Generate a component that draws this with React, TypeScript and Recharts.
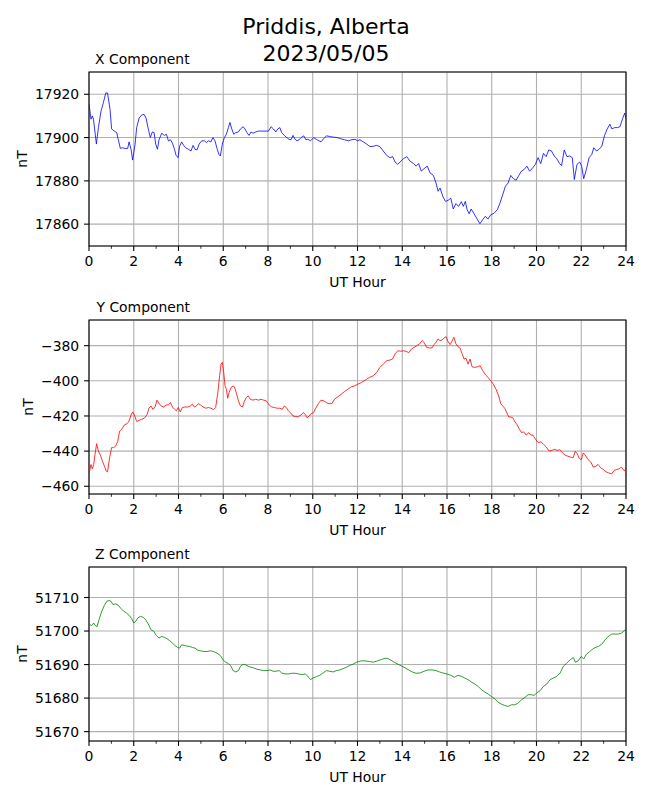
import { LineChart, Line, XAxis, YAxis, CartesianGrid, ReferenceArea } from "recharts";

const FONT = "'DejaVu Sans', sans-serif";

const HOURS_ALL = [0, 1, 2, 3, 4, 5, 6, 7, 8, 9, 10, 11, 12, 13, 14, 15, 16, 17, 18, 19, 20, 21, 22, 23, 24];
const HOURS_MAJOR = [0, 2, 4, 6, 8, 10, 12, 14, 16, 18, 20, 22, 24];

const X_TICKS = [17860, 17880, 17900, 17920];
const Y_TICKS = [-460, -440, -420, -400, -380];
const Z_TICKS = [51670, 51680, 51690, 51700, 51710];

const X_HOURS = [
  0, 0.09, 0.15, 0.2, 0.33, 0.42, 0.54, 0.64, 0.75, 0.83, 0.94, 1.01, 1.13, 1.24, 1.31, 1.4, 1.49, 1.61, 1.73, 1.79,
  1.88, 1.95, 2.06, 2.13, 2.24, 2.35, 2.46, 2.55, 2.65, 2.74, 2.83, 2.91, 2.98, 3.06, 3.13, 3.25, 3.37, 3.46, 3.55,
  3.64, 3.73, 3.82, 3.89, 3.98, 4.05, 4.14, 4.23, 4.32, 4.44, 4.56, 4.65, 4.74, 4.83, 4.92, 5.04, 5.16, 5.25, 5.34,
  5.44, 5.54, 5.63, 5.72, 5.81, 5.87, 5.96, 6.05, 6.14, 6.23, 6.3, 6.38, 6.47, 6.56, 6.68, 6.77, 6.89, 6.97, 7.06,
  7.15, 7.24, 7.33, 7.45, 7.57, 7.72, 7.87, 8.02, 8.14, 8.24, 8.35, 8.44, 8.53, 8.61, 8.73, 8.84, 8.94, 9.03, 9.12,
  9.21, 9.3, 9.39, 9.48, 9.6, 9.69, 9.78, 9.9, 10.04, 10.16, 10.28, 10.37, 10.49, 10.61, 10.76, 10.91, 11.09, 11.24,
  11.42, 11.6, 11.74, 11.89, 12.0, 12.11, 12.26, 12.41, 12.56, 12.71, 12.86, 13.0, 13.15, 13.3, 13.45, 13.57, 13.68,
  13.8, 13.9, 14.05, 14.2, 14.35, 14.5, 14.62, 14.73, 14.85, 14.97, 15.12, 15.24, 15.39, 15.51, 15.6, 15.69, 15.81,
  15.93, 16.05, 16.17, 16.28, 16.4, 16.52, 16.64, 16.73, 16.82, 16.9, 16.99, 17.08, 17.2, 17.35, 17.47, 17.59, 17.71,
  17.83, 17.95, 18.1, 18.25, 18.37, 18.49, 18.61, 18.73, 18.85, 18.97, 19.09, 19.21, 19.33, 19.45, 19.57, 19.69, 19.8,
  19.95, 20.07, 20.19, 20.31, 20.43, 20.55, 20.67, 20.79, 20.91, 21.03, 21.12, 21.24, 21.36, 21.48, 21.6, 21.69,
  21.81, 21.93, 22.02, 22.11, 22.23, 22.35, 22.47, 22.56, 22.68, 22.8, 22.92, 23.04, 23.16, 23.28, 23.37, 23.49,
  23.61, 23.73, 23.85, 23.94, 24.0,
];
const X_NT = [
  17915.5, 17908.5, 17910, 17908.5, 17897, 17904.6, 17912.4, 17916, 17920.6, 17920.6, 17913, 17904, 17903, 17902.3,
  17899, 17895, 17895.3, 17895, 17895, 17898, 17894.6, 17889.6, 17897, 17904.6, 17909, 17910.4, 17910.7, 17909, 17904,
  17900, 17902.6, 17902.3, 17897, 17894.6, 17899, 17902, 17901, 17901.5, 17898.5, 17899, 17897.4, 17894.6, 17891.8,
  17890.7, 17896, 17898, 17896.4, 17895.3, 17894.6, 17893.8, 17896.4, 17894.6, 17894.3, 17897, 17898.5, 17898.5,
  17897.7, 17898.5, 17898, 17900, 17898.5, 17895, 17892.2, 17891.5, 17897, 17900, 17901.5, 17904.6, 17907, 17904,
  17901.5, 17902.3, 17902.6, 17904, 17905, 17904, 17902.3, 17901, 17902.6, 17902, 17902.6, 17903, 17903, 17903, 17903,
  17905, 17904, 17902.6, 17904, 17904.6, 17902.3, 17901, 17900, 17899.2, 17899, 17901, 17899.2, 17898.5, 17899, 17900,
  17900.8, 17899, 17899.2, 17898.5, 17900, 17899.2, 17898.5, 17898, 17899.5, 17900.8, 17900.5, 17900.2, 17900, 17899.5,
  17899, 17898.5, 17899, 17899.2, 17898.5, 17899, 17898, 17897, 17895.8, 17896, 17896.4, 17895.8, 17893.8, 17891.8,
  17890.7, 17891.2, 17888.7, 17887.6, 17888.7, 17890.2, 17891.2, 17889.1, 17888, 17886.8, 17888, 17884.5, 17885.6,
  17886.8, 17883.7, 17882.5, 17879, 17875.2, 17876.7, 17872.9, 17870.5, 17871, 17872, 17867, 17869.5, 17868.2, 17870.4,
  17868.2, 17870.5, 17866.7, 17864.8, 17867, 17865, 17862.3, 17860.2, 17862, 17863.6, 17862.3, 17864.3, 17865, 17866.7,
  17869.8, 17873.6, 17877.5, 17879, 17882.5, 17881, 17880.3, 17882.5, 17884.5, 17885.3, 17886.8, 17884.5, 17885.6,
  17887.6, 17890.7, 17888, 17892.7, 17891.2, 17894.3, 17893.8, 17891.5, 17890.2, 17888, 17887, 17894.3, 17891.2,
  17891.5, 17890.7, 17880.6, 17887.6, 17888.7, 17886.8, 17881, 17885.3, 17890.7, 17892.2, 17895.3, 17893.8, 17894.6,
  17896, 17901, 17904, 17906.2, 17904, 17904.6, 17904.6, 17905, 17908.8, 17911.3, 17908.8,
];

const Y_HOURS = [
  0, 0.09, 0.15, 0.21, 0.27, 0.34, 0.42, 0.51, 0.6, 0.69, 0.77, 0.83, 0.92, 1.01, 1.1, 1.19, 1.28, 1.37, 1.46, 1.58,
  1.7, 1.79, 1.88, 1.95, 2.03, 2.13, 2.24, 2.35, 2.47, 2.59, 2.68, 2.77, 2.86, 2.95, 3.04, 3.13, 3.22, 3.34, 3.46,
  3.55, 3.64, 3.73, 3.82, 3.9, 3.99, 4.08, 4.17, 4.29, 4.41, 4.53, 4.62, 4.71, 4.8, 4.89, 4.98, 5.1, 5.22, 5.34, 5.45,
  5.57, 5.66, 5.75, 5.84, 5.9, 5.96, 6.02, 6.08, 6.14, 6.2, 6.26, 6.35, 6.44, 6.5, 6.59, 6.68, 6.77, 6.86, 6.94, 7.03,
  7.12, 7.21, 7.33, 7.45, 7.57, 7.69, 7.81, 7.93, 8.05, 8.17, 8.29, 8.41, 8.53, 8.64, 8.73, 8.82, 8.91, 9.0, 9.12,
  9.24, 9.36, 9.48, 9.57, 9.66, 9.75, 9.84, 9.93, 10.04, 10.13, 10.25, 10.37, 10.49, 10.61, 10.73, 10.85, 10.97,
  11.12, 11.27, 11.42, 11.57, 11.72, 11.87, 12.0, 12.17, 12.35, 12.53, 12.71, 12.86, 13.0, 13.15, 13.3, 13.45, 13.57,
  13.69, 13.81, 13.93, 14.05, 14.17, 14.29, 14.41, 14.53, 14.65, 14.77, 14.89, 14.97, 15.09, 15.21, 15.33, 15.42,
  15.51, 15.6, 15.69, 15.78, 15.87, 15.96, 16.04, 16.14, 16.22, 16.31, 16.4, 16.49, 16.58, 16.67, 16.76, 16.85, 16.94,
  17.03, 17.12, 17.24, 17.36, 17.48, 17.6, 17.72, 17.84, 17.95, 18.07, 18.19, 18.31, 18.4, 18.49, 18.58, 18.67, 18.76,
  18.85, 18.94, 19.03, 19.12, 19.24, 19.33, 19.42, 19.54, 19.66, 19.75, 19.84, 19.96, 20.08, 20.2, 20.32, 20.44,
  20.56, 20.68, 20.8, 20.92, 21.04, 21.16, 21.28, 21.4, 21.52, 21.64, 21.73, 21.82, 21.91, 22.0, 22.09, 22.18, 22.3,
  22.42, 22.54, 22.66, 22.75, 22.87, 22.99, 23.11, 23.23, 23.35, 23.47, 23.58, 23.7, 23.79, 23.88, 23.94, 24.0,
];
const Y_NT = [
  -453, -447.6, -450, -447.6, -441.9, -435.8, -440, -442.3, -445.7, -448.6, -451.4, -451.8, -443.8, -438, -438, -437.1,
  -434.7, -428.6, -427.6, -425.1, -424.4, -422.9, -419.4, -417.7, -419.4, -423.2, -422.5, -421.9, -421.3, -419.4,
  -415.6, -414.3, -416.2, -414.9, -411, -413, -414.3, -414.9, -413.7, -413.7, -412.4, -414.9, -416.2, -417.1, -415.2,
  -417.7, -415.2, -414.9, -414.9, -414.3, -413.3, -414.9, -414.3, -413, -413.7, -414.9, -415.6, -415.2, -415.6, -416.4,
  -415.2, -407.6, -397.1, -390.5, -389.5, -395.2, -402.9, -404.8, -409.9, -406.7, -403.8, -402.9, -403.4, -407.2,
  -411.4, -414.3, -414.9, -411.8, -409.5, -408.6, -410.5, -411, -410.5, -411, -410.5, -411, -411.4, -413.7, -414.9,
  -415.2, -415.6, -415.6, -416.2, -414.3, -415.2, -417.1, -418.1, -420, -420.4, -420.4, -419.4, -418.1, -419, -421,
  -420, -418.7, -418.1, -415.6, -413, -411, -411.4, -412.4, -413, -413, -410.5, -409.1, -407.6, -406.1, -404.8, -403.4,
  -402.9, -402, -401, -399.6, -398.1, -397.1, -395.2, -392.4, -390.5, -388.6, -388.2, -387.6, -384.4, -382.9, -383.2,
  -382.9, -383.2, -384, -381.9, -381, -380, -379, -377.1, -378.1, -381, -381.3, -381.3, -379.4, -378.1, -376.2, -377.1,
  -376.8, -375.6, -374.9, -377.5, -379.4, -377.5, -375.2, -379, -380.6, -381.3, -384.4, -387.6, -387.2, -390.5, -387.6,
  -392, -392.4, -392, -391.4, -394.3, -396.6, -398.1, -400, -401.9, -404.8, -408.6, -413, -414.3, -415.6, -418.1,
  -420.6, -420.6, -421, -423.2, -424.8, -427.6, -429.5, -429, -430.9, -429.5, -430.9, -430.9, -433.3, -435.2, -434.7,
  -436.2, -437.7, -440, -439.6, -439, -439.6, -439.2, -441, -442.3, -442.9, -443.4, -443.8, -440, -441.5, -444.2,
  -444.8, -441, -442.3, -444.8, -446.1, -449.1, -448.6, -447.6, -449.5, -450.5, -451.8, -452.4, -453, -451, -450.5,
  -450, -449.1, -450.5, -451.4, -449.5,
];

const Z_HOURS = [
  0, 0.12, 0.21, 0.27, 0.36, 0.45, 0.57, 0.69, 0.8, 0.89, 0.98, 1.07, 1.19, 1.31, 1.43, 1.55, 1.67, 1.79, 1.91, 2.0,
  2.09, 2.18, 2.3, 2.42, 2.53, 2.65, 2.77, 2.89, 3.01, 3.13, 3.25, 3.37, 3.49, 3.61, 3.73, 3.84, 3.96, 4.05, 4.14,
  4.26, 4.38, 4.5, 4.62, 4.74, 4.86, 4.98, 5.13, 5.28, 5.42, 5.57, 5.72, 5.87, 5.99, 6.11, 6.23, 6.35, 6.44, 6.56,
  6.68, 6.77, 6.89, 7.0, 7.12, 7.24, 7.36, 7.51, 7.66, 7.81, 7.96, 8.11, 8.23, 8.35, 8.5, 8.61, 8.76, 8.91, 9.06,
  9.21, 9.36, 9.51, 9.66, 9.78, 9.9, 10.01, 10.16, 10.31, 10.46, 10.61, 10.76, 10.91, 11.06, 11.21, 11.36, 11.51,
  11.66, 11.8, 11.95, 12.17, 12.35, 12.53, 12.71, 12.89, 13.07, 13.24, 13.39, 13.54, 13.72, 13.9, 14.08, 14.26, 14.44,
  14.62, 14.8, 14.97, 15.15, 15.33, 15.51, 15.66, 15.81, 15.99, 16.17, 16.34, 16.49, 16.64, 16.79, 16.94, 17.09,
  17.24, 17.39, 17.54, 17.69, 17.84, 17.98, 18.13, 18.28, 18.43, 18.58, 18.73, 18.88, 19.03, 19.18, 19.33, 19.48,
  19.63, 19.77, 19.89, 20.01, 20.16, 20.31, 20.46, 20.61, 20.76, 20.91, 21.06, 21.2, 21.35, 21.5, 21.65, 21.74, 21.86,
  22.0, 22.11, 22.23, 22.35, 22.47, 22.62, 22.77, 22.92, 23.07, 23.21, 23.36, 23.51, 23.66, 23.81, 23.96, 24.0,
];
const Z_NT = [
  51702.1, 51701.6, 51702.4, 51701.7, 51701.3, 51703.4, 51705.9, 51707.7, 51708.9, 51709.1, 51708.9, 51707.9, 51708.1,
  51707.7, 51706.7, 51705.9, 51705.4, 51704.7, 51703.7, 51702.4, 51702.9, 51703.9, 51704.4, 51704.1, 51703.4, 51702.1,
  51700.4, 51699.9, 51698.7, 51697.9, 51698.4, 51698.1, 51697.7, 51697.1, 51696.4, 51695.7, 51695.1, 51694.9, 51695.9,
  51695.7, 51695.5, 51695.4, 51695.1, 51694.9, 51694.3, 51694.1, 51693.9, 51693.9, 51694.1, 51693.9, 51693.4, 51692.7,
  51691.4, 51690.7, 51690.3, 51689.5, 51688.2, 51687.8, 51688.2, 51689.5, 51690.1, 51689.9, 51689.5, 51689.2, 51689,
  51688.6, 51688.4, 51688.2, 51688.2, 51688.4, 51688, 51688, 51688.2, 51687.5, 51687.2, 51687.2, 51687.4, 51687.4,
  51687.2, 51687, 51687.2, 51686.5, 51685.5, 51686, 51686.4, 51686.8, 51687.5, 51688.2, 51688, 51687.8, 51688.2,
  51688.4, 51688.8, 51689.2, 51689.8, 51690.1, 51690.7, 51691.1, 51691.1, 51690.9, 51690.7, 51691.1, 51691.5, 51691.9,
  51691.7, 51691.1, 51690.4, 51689.8, 51689.2, 51688.5, 51687.8, 51687.4, 51687.5, 51688, 51688.4, 51688.4, 51688.2,
  51687.8, 51687.5, 51687.2, 51686.8, 51686.2, 51686.8, 51686.5, 51686, 51685.5, 51684.8, 51684.2, 51683.5, 51682.5,
  51681.8, 51681.2, 51680.5, 51679.8, 51678.8, 51678.2, 51677.8, 51677.5, 51678, 51678, 51678.5, 51679.5, 51680.2,
  51681, 51681, 51680.8, 51681.5, 51682.2, 51683.5, 51684.2, 51685.5, 51686, 51686.5, 51687.5, 51689.5, 51690.4,
  51691.4, 51692.1, 51690.7, 51691.1, 51692.4, 51691.7, 51693.1, 51693.7, 51694.4, 51695.1, 51695.4, 51696.1, 51697.4,
  51698.4, 51699.1, 51699.1, 51699.1, 51699.4, 51700.4, 51700.2,
];

// plot box inside each panel chart
const PLOT_LEFT = 89;
const PLOT_H = 174;
const TOP_PAD = 10;
const AXIS_H = 50;
const CHART_H = TOP_PAD + PLOT_H + AXIS_H;
const PLOT_BOTTOM = TOP_PAD + PLOT_H;

const fmt = (v: number) => String(v).replace("-", "\u2212");

function HourTick(props: any) {
  const { x, payload } = props;
  const major = payload.value % 2 === 0;
  return (
    <g>
      <line
        x1={x}
        x2={x}
        y1={PLOT_BOTTOM}
        y2={PLOT_BOTTOM + (major ? 4.9 : 2.8)}
        stroke="#000"
        strokeWidth={major ? 1.1 : 0.8}
      />
      {major && (
        <text x={x} y={PLOT_BOTTOM + 20.4} textAnchor="middle" fontSize={13.9} fontFamily={FONT} fill="#000">
          {payload.value}
        </text>
      )}
    </g>
  );
}

function NtTick(props: any) {
  const { y, payload } = props;
  return (
    <g>
      <line x1={PLOT_LEFT - 4.9} x2={PLOT_LEFT} y1={y} y2={y} stroke="#000" strokeWidth={1.1} />
      <text x={PLOT_LEFT - 9.8} y={y + 5} textAnchor="end" fontSize={13.9} fontFamily={FONT} fill="#000">
        {fmt(payload.value)}
      </text>
    </g>
  );
}

type PanelProps = {
  top: number;
  title: string;
  titleX: number;
  hours: number[];
  values: number[];
  color: string;
  domain: [number, number];
  ticks: number[];
  labelX: number;
};

function Panel({ top, title, titleX, hours, values, color, domain, ticks, labelX }: PanelProps) {
  const data = hours.map((h, i) => ({ h, v: values[i] }));
  return (
    <div style={{ position: "absolute", left: 0, top: top - TOP_PAD, width: 650, height: CHART_H }}>
      <LineChart width={650} height={CHART_H} data={data} margin={{ top: TOP_PAD, right: 24, bottom: 0, left: 29 }}>
        <CartesianGrid stroke="#b0b0b0" strokeWidth={1.1} verticalValues={HOURS_MAJOR} />
        <XAxis
          type="number"
          dataKey="h"
          domain={[0, 24]}
          ticks={HOURS_ALL}
          interval={0}
          height={AXIS_H}
          tickLine={false}
          axisLine={false}
          tick={(p: any) => <HourTick {...p} />}
          allowDataOverflow
        />
        <YAxis
          type="number"
          domain={domain}
          ticks={ticks}
          interval={0}
          width={60}
          tickLine={false}
          axisLine={false}
          tick={(p: any) => <NtTick {...p} />}
          allowDataOverflow
        />
        <Line
          type="linear"
          dataKey="v"
          stroke={color}
          strokeWidth={0.8}
          dot={false}
          activeDot={false}
          isAnimationActive={false}
        />
        <ReferenceArea x1={0} x2={24} y1={domain[0]} y2={domain[1]} fill="none" stroke="#000" strokeWidth={1.1} />
      </LineChart>
      <svg
        width={650}
        height={CHART_H}
        style={{ position: "absolute", left: 0, top: 0, overflow: "visible", pointerEvents: "none" }}
      >
        <text x={titleX} y={TOP_PAD - 8} fontSize={13.9} fontFamily={FONT} fill="#000">
          {title}
        </text>
        <text x={357.5} y={PLOT_BOTTOM + 40.5} fontSize={13.9} fontFamily={FONT} textAnchor="middle" fill="#000">
          UT Hour
        </text>
        <text
          transform={`translate(${labelX}, ${TOP_PAD + PLOT_H / 2}) rotate(-90)`}
          fontSize={13.9}
          fontFamily={FONT}
          textAnchor="middle"
          fill="#000"
        >
          nT
        </text>
      </svg>
    </div>
  );
}

export default function App() {
  return (
    <div
      style={{
        position: "absolute",
        left: 0,
        top: 0,
        width: 650,
        height: 800,
        background: "#fff",
        overflow: "hidden",
        fontFamily: FONT,
      }}
    >
      <svg width={650} height={70} style={{ position: "absolute", left: 0, top: 0 }}>
        <text x={326} y={34} fontSize={22} fontFamily={FONT} textAnchor="middle" fill="#000">
          Priddis, Alberta
        </text>
        <text x={326} y={61} fontSize={22} fontFamily={FONT} textAnchor="middle" fill="#000">
          2023/05/05
        </text>
      </svg>
      <Panel
        top={72}
        title="X Component"
        titleX={95}
        hours={X_HOURS}
        values={X_NT}
        color="#0000ff"
        domain={[17849.9, 17930.3]}
        ticks={X_TICKS}
        labelX={26.7}
      />
      <Panel
        top={320}
        title="Y Component"
        titleX={96.5}
        hours={Y_HOURS}
        values={Y_NT}
        color="#ff0000"
        domain={[-464.4, -365.4]}
        ticks={Y_TICKS}
        labelX={33}
      />
      <Panel
        top={567}
        title="Z Component"
        titleX={95}
        hours={Z_HOURS}
        values={Z_NT}
        color="#008000"
        domain={[51667.2, 51719.1]}
        ticks={Z_TICKS}
        labelX={26.7}
      />
    </div>
  );
}
